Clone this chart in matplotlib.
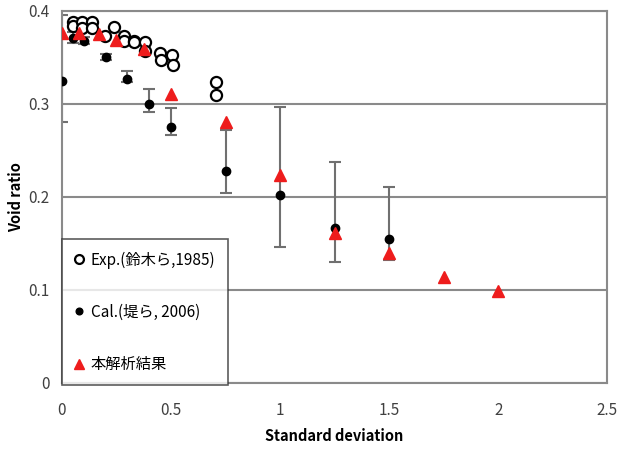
import numpy as np
import matplotlib.pyplot as plt

plt.rcParams['font.family'] = ['Noto Sans CJK JP', 'DejaVu Sans']

# Exp. (鈴木ら, 1985) - open circles
exp_x = [0.05, 0.05, 0.092, 0.092, 0.138, 0.138, 0.198, 0.239, 0.285, 0.285,
         0.33, 0.33, 0.38, 0.38, 0.45, 0.455, 0.505, 0.51, 0.708, 0.708]
exp_y = [0.388, 0.384, 0.388, 0.381, 0.388, 0.382, 0.373, 0.383, 0.373, 0.368,
         0.368, 0.366, 0.366, 0.357, 0.355, 0.347, 0.352, 0.342, 0.323, 0.310]

# Cal. (堤ら, 2006) - filled dots with error bars
cal_x = [0.0, 0.05, 0.1, 0.2, 0.3, 0.4, 0.5, 0.75, 1.0, 1.25, 1.5]
cal_y = [0.325, 0.371, 0.368, 0.350, 0.327, 0.300, 0.275, 0.228, 0.202, 0.167, 0.155]
cal_hi = [0.396, 0.377, 0.372, 0.354, 0.335, 0.316, 0.296, 0.272, 0.297, 0.237, 0.211]
cal_lo = [0.280, 0.365, 0.364, 0.347, 0.323, 0.291, 0.267, 0.204, 0.146, 0.130, 0.132]

# 本解析結果 - red triangles
res_x = [0.0, 0.08, 0.17, 0.25, 0.375, 0.5, 0.75, 1.0, 1.25, 1.5, 1.75, 2.0]
res_y = [0.376, 0.376, 0.375, 0.369, 0.359, 0.311, 0.280, 0.224, 0.161, 0.140, 0.114, 0.099]

labels = ['Exp.(鈴木ら,1985)', 'Cal.(堤ら, 2006)', '本解析結果']

fig = plt.figure(figsize=(6.19, 4.5), dpi=100)
ax = fig.add_axes([0.100, 0.149, 0.881, 0.827])

cal_y = np.array(cal_y)
yerr = [cal_y - np.array(cal_lo), np.array(cal_hi) - cal_y]

h1, = ax.plot(exp_x, exp_y, 'o', ms=8, mfc='white', mec='black', mew=1.6,
              linestyle='none', zorder=3)
ax.errorbar(cal_x, cal_y, yerr=yerr, fmt='none', ecolor='#707070',
            elinewidth=1.5, capsize=4, capthick=1.5, zorder=2)
h2, = ax.plot(cal_x, cal_y, 'o', ms=6, color='black', linestyle='none', zorder=4)
h3, = ax.plot(res_x, res_y, '^', ms=9, color='#ee1c1c', linestyle='none', zorder=5)

ax.set_xlim(0, 2.5)
ax.set_ylim(0, 0.4)
ax.set_xticks([0, 0.5, 1, 1.5, 2, 2.5])
ax.set_xticklabels(['0', '0.5', '1', '1.5', '2', '2.5'])
ax.set_yticks([0, 0.1, 0.2, 0.3, 0.4])
ax.set_yticklabels(['0', '0.1', '0.2', '0.3', '0.4'])
ax.tick_params(length=0, labelsize=11, labelcolor='#404040')
ax.tick_params(axis='x', pad=14)
ax.tick_params(axis='y', pad=9)

ax.yaxis.grid(True, color='#8a8a8a', linewidth=1.5)
ax.set_axisbelow(True)
for s in ax.spines.values():
    s.set_color('#8a8a8a')
    s.set_linewidth(1.5)

ax.set_xlabel('Standard deviation', fontsize=10.5, fontweight='bold', labelpad=6)
ax.set_ylabel('Void ratio', fontsize=10.5, fontweight='bold', labelpad=3)

leg = ax.legend([h1, h2, h3], labels, loc='lower left', bbox_to_anchor=(0.0, -0.006),
                fontsize=11, frameon=True, fancybox=False, labelspacing=2.3,
                handlelength=0.6, handletextpad=0.5, borderpad=0.8,
                borderaxespad=0, markerscale=0.8)
leg.get_frame().set_edgecolor('#333333')
leg.get_frame().set_linewidth(1.2)

fig.savefig('out.png', dpi=100)
